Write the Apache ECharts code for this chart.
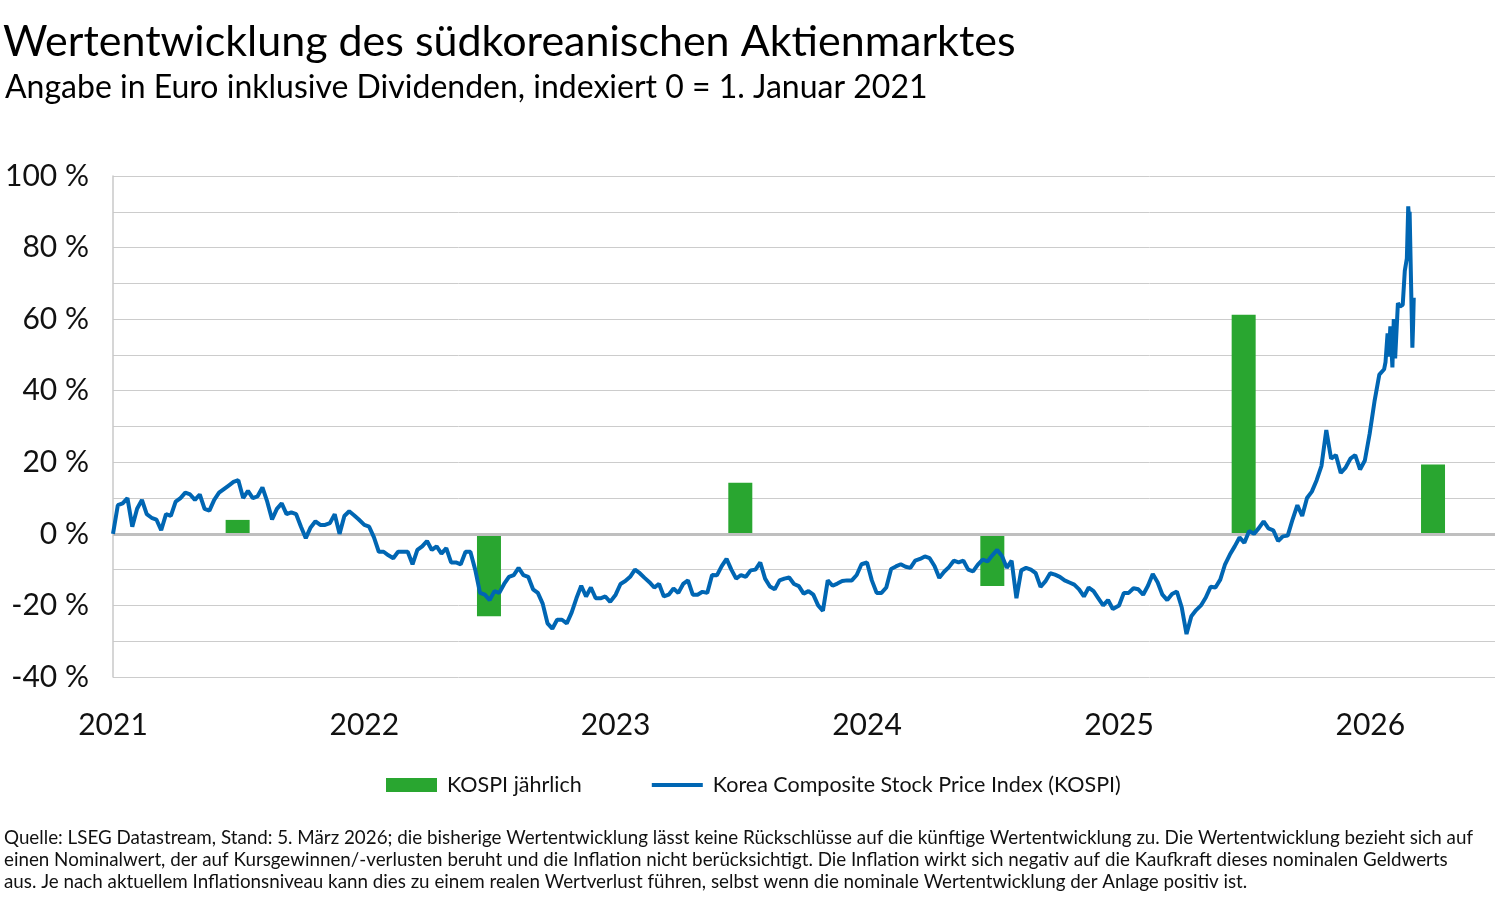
<!DOCTYPE html>
<html>
<head>
<meta charset="utf-8">
<script src="https://cdn.jsdelivr.net/npm/echarts@6/dist/echarts.min.js"></script>
<style>
html,body{margin:0;padding:0;background:#fff;}
#chart{width:1500px;height:898px;}
</style>
</head>
<body>
<div id="chart"></div>
<script>
// Weekly KOSPI values (%), each array starts on 1 January of its year, one value per week
const kospi2021 = [0, 8, 8.5, 10, 2, 7, 9.5, 5.5, 4.5, 4, 1, 5.5, 5, 9, 10, 11.5, 11, 9.5, 11, 7, 6.5, 9.5, 11.5, 12.5, 13.5, 14.5, 15, 10, 12, 10, 10.5, 13, 9, 4, 7, 8.5, 5.5, 6, 5.5, 2, -1.2, 1.8, 3.5, 2.5, 2.5, 3, 5.5, 0, 5, 6.3, 5.2, 4];
const kospi2022 = [2.5, 2, -1, -5, -5, -6, -6.8, -5, -5, -5, -8.5, -4.5, -3.5, -2, -4.5, -3.5, -5.5, -4, -8, -8, -8.5, -5, -5, -10, -16.5, -17, -18.5, -16, -16.5, -14, -12, -11.5, -9.5, -11.5, -12, -15.5, -16.5, -19.5, -25, -26.5, -24, -24, -25, -22, -18, -14.5, -17.5, -15, -18, -18, -17.5, -19];
const kospi2023 = [-17, -14, -13.2, -12, -10, -11, -12.3, -13.5, -15, -14, -17.5, -17, -15.3, -16.5, -14, -13, -17, -17, -16.2, -16.5, -11.5, -11.6, -9, -7, -10, -12.5, -11.5, -12, -10.2, -10, -8, -12.5, -14.7, -15.5, -13, -12.5, -12.2, -14, -14.6, -16.7, -16, -17, -20, -21.5, -13, -14.5, -13.9, -13.2, -13, -13, -11.5, -8.5];
const kospi2024 = [-8, -13, -16.5, -16.5, -15, -9.8, -9.1, -8.5, -9.2, -9.5, -7.5, -7, -6.3, -6.8, -9, -12.3, -10.6, -9.3, -7.5, -8, -7.5, -10, -10.5, -8.6, -7.2, -7.7, -6, -4.5, -6.2, -9.5, -7.5, -18, -10.2, -9.5, -10, -11, -14.8, -13.3, -11, -11.4, -12, -13, -13.6, -14.2, -15.5, -17.5, -15, -16, -18, -20, -18.5, -21];
const kospi2025 = [-20, -16.5, -16.5, -15.2, -15.5, -17, -14.5, -11.2, -13.5, -17, -18.5, -16.8, -16.1, -20.5, -28, -23, -21.3, -20, -17.8, -14.8, -15, -12.8, -8.5, -5.8, -3.5, -1, -2.5, 0.8, 0, 1.6, 3.5, 1.5, 1, -2, -0.7, -0.5, 4, 8, 5, 10, 11.8, 15, 19, 29, 21, 22, 17, 18.5, 21, 22, 18, 20.5, 28, 37, 44.5, 46];
// Daily-ish values at the end of the series
const kospiEnd = [
  ['2026-01-23', 48], ['2026-01-26', 56], ['2026-01-28', 49.5], ['2026-01-30', 58],
  ['2026-02-02', 46.5], ['2026-02-04', 60], ['2026-02-06', 49], ['2026-02-10', 64.5],
  ['2026-02-13', 63.5], ['2026-02-17', 64], ['2026-02-20', 73.5], ['2026-02-23', 77],
  ['2026-02-25', 91.5], ['2026-02-26', 88.5], ['2026-02-27', 90], ['2026-03-03', 52],
  ['2026-03-04', 58], ['2026-03-05', 66]
];
// Annual KOSPI returns (%), drawn at their position in the reference
const barDates = ['2021-07-01', '2022-07-01', '2023-07-01', '2024-07-01', '2025-07-01', '2026-04-02'];
const barValues = [3.9, -23, 14.3, -14.6, 61.2, 19.4];
const yTicks = [-40, -20, 0, 20, 40, 60, 80, 100];

const yearly = [[2021, kospi2021], [2022, kospi2022], [2023, kospi2023], [2024, kospi2024], [2025, kospi2025]];
const lineData = [];
yearly.forEach(([yr, arr]) => {
  arr.forEach((v, i) => { lineData.push([new Date(yr, 0, 1 + i * 7), v]); });
});
kospiEnd.forEach(p => lineData.push([p[0], p[1]]));
const barData = barDates.map((d, i) => [d, barValues[i]]);

const FONT = 'Lato';
const GREEN = '#29a630';
const BLUE = '#0066b3';
const chart = echarts.init(document.getElementById('chart'));
chart.setOption({
  animation: false,
  textStyle: { fontFamily: FONT },
  title: [
    { text: 'Wertentwicklung des südkoreanischen Aktienmarktes', left: -2, top: 16,
      textStyle: { fontFamily: FONT, fontSize: 43, fontWeight: 'normal', color: '#000' } },
    { text: 'Angabe in Euro inklusive Dividenden, indexiert 0 = 1. Januar 2021', left: 0, top: 67,
      textStyle: { fontFamily: FONT, fontSize: 32, fontWeight: 'normal', color: '#000' } }
  ],
  grid: { left: 113, right: 5, top: 176, bottom: 221 },
  legend: {
    left: 386, top: 774, padding: 0,
    itemWidth: 51, itemHeight: 14, itemGap: 68,
    textStyle: { fontFamily: FONT, fontSize: 21.5, color: '#111', padding: [0, 0, 0, 5] },
    data: [
      { name: 'KOSPI jährlich', icon: 'rect' },
      { name: 'Korea Composite Stock Price Index (KOSPI)', itemStyle: { opacity: 0 }, lineStyle: { width: 4, color: BLUE } }
    ]
  },
  xAxis: {
    type: 'time',
    min: '2021-01-01', max: '2026-07-01',
    minInterval: 365 * 86400000, maxInterval: 366 * 86400000,
    axisLine: { show: false },
    axisTick: { show: false },
    splitLine: { show: false },
    axisLabel: {
      formatter: '{yyyy}', fontFamily: FONT, fontSize: 30, color: '#111', margin: 33,
      showMaxLabel: false
    }
  },
  yAxis: {
    type: 'value', min: -40, max: 100, interval: 10,
    axisLine: { show: true, lineStyle: { color: '#c8c8c8', width: 1.5 } },
    axisTick: { show: false },
    splitLine: { show: true, lineStyle: { color: '#cccccc', width: 1 } },
    axisLabel: {
      fontFamily: FONT, fontSize: 30, color: '#111', margin: 24,
      formatter: v => (yTicks.indexOf(v) >= 0 ? v + ' %' : '')
    }
  },
  series: [
    {
      name: 'KOSPI jährlich', type: 'custom', data: barData,
      encode: { x: 0, y: 1 },
      itemStyle: { color: GREEN }, z: 2,
      renderItem: (params, api) => {
        const top = api.coord([api.value(0), api.value(1)]);
        const base = api.coord([api.value(0), 0]);
        const w = 24;
        return {
          type: 'rect',
          shape: { x: top[0] - w / 2, y: Math.min(top[1], base[1]), width: w, height: Math.abs(base[1] - top[1]) },
          style: { fill: GREEN }
        };
      },
      markLine: {
        silent: true, symbol: 'none', label: { show: false },
        lineStyle: { color: '#bfbfbf', width: 3, type: 'solid' },
        data: [{ yAxis: 0 }]
      }
    },
    {
      name: 'Korea Composite Stock Price Index (KOSPI)', type: 'line', data: lineData,
      showSymbol: false, symbol: 'none', z: 5,
      lineStyle: { color: BLUE, width: 4 }, itemStyle: { color: BLUE }
    }
  ],
  graphic: [
    { type: 'text', left: 4, top: 828, style: { text: 'Quelle: LSEG Datastream, Stand: 5. März 2026; die bisherige Wertentwicklung lässt keine Rückschlüsse auf die künftige Wertentwicklung zu. Die Wertentwicklung bezieht sich auf', font: '18.8px Lato', fill: '#111' } },
    { type: 'text', left: 4, top: 850, style: { text: 'einen Nominalwert, der auf Kursgewinnen/-verlusten beruht und die Inflation nicht berücksichtigt. Die Inflation wirkt sich negativ auf die Kaufkraft dieses nominalen Geldwerts', font: '18.8px Lato', fill: '#111' } },
    { type: 'text', left: 4, top: 872, style: { text: 'aus. Je nach aktuellem Inflationsniveau kann dies zu einem realen Wertverlust führen, selbst wenn die nominale Wertentwicklung der Anlage positiv ist.', font: '18.8px Lato', fill: '#111' } }
  ]
});
</script>
</body>
</html>
